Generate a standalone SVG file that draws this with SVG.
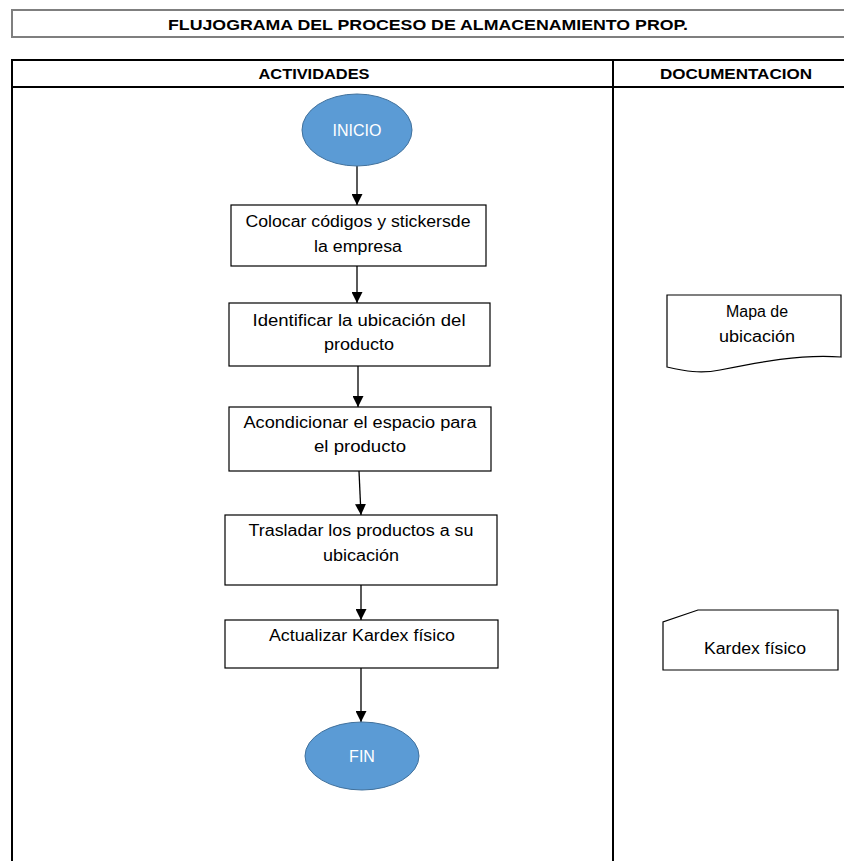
<svg xmlns="http://www.w3.org/2000/svg" width="844" height="861" viewBox="0 0 844 861">
  <defs>
    <style>
      .frame { fill: none; stroke: #000; stroke-width: 2; }
      .title-box { fill: #fff; stroke: #7f7f7f; stroke-width: 2; }
      .hdr { font-family: "Liberation Sans", Arial, sans-serif; font-weight: bold; font-size: 15px; fill: #000; text-anchor: middle; }
      .box { fill: #fff; stroke: #000; stroke-width: 1.2; }
      .lbl { font-family: "Liberation Sans", Arial, sans-serif; font-size: 16px; fill: #000; text-anchor: middle; }
      .term { fill: #5b9bd5; stroke: #41719c; stroke-width: 1; }
      .term-lbl { font-family: "Liberation Sans", Arial, sans-serif; font-size: 16px; fill: #fff; text-anchor: middle; }
      .edge { fill: none; stroke: #000; stroke-width: 1.3; marker-end: url(#arrow); }
    </style>
    <marker id="arrow" viewBox="0 0 10 10" refX="10" refY="5" markerWidth="11" markerHeight="11" markerUnits="userSpaceOnUse" orient="auto">
      <path d="M0,0 L10,5 L0,10 z" fill="#000"/>
    </marker>
  </defs>

  <rect width="844" height="861" fill="#fff"/>

  <!-- title bar -->
  <g id="title">
    <rect class="title-box" x="12" y="10" width="840" height="27"/>
    <text class="hdr" x="428" y="30" textLength="520" lengthAdjust="spacingAndGlyphs">FLUJOGRAMA DEL PROCESO DE ALMACENAMIENTO PROP.</text>
  </g>

  <!-- swimlane table -->
  <g id="table">
    <rect class="frame" x="12" y="60" width="840" height="810"/>
    <line class="frame" x1="12" y1="87" x2="844" y2="87"/>
    <line class="frame" x1="613" y1="60" x2="613" y2="861"/>
    <text class="hdr" x="314" y="79" textLength="111" lengthAdjust="spacingAndGlyphs">ACTIVIDADES</text>
    <text class="hdr" x="736" y="79" textLength="152" lengthAdjust="spacingAndGlyphs">DOCUMENTACION</text>
  </g>

  <!-- connectors -->
  <g id="connectors">
    <line class="edge" x1="357" y1="166" x2="357" y2="205"/>
    <line class="edge" x1="357" y1="266" x2="357" y2="303"/>
    <line class="edge" x1="358" y1="366" x2="358" y2="407"/>
    <line class="edge" x1="359" y1="471" x2="361" y2="515"/>
    <line class="edge" x1="361" y1="585" x2="361" y2="620"/>
    <line class="edge" x1="361" y1="668" x2="361" y2="722"/>
  </g>

  <g id="inicio">
    <ellipse class="term" cx="357" cy="130" rx="55" ry="36"/>
    <text class="term-lbl" x="357" y="136">INICIO</text>
  </g>

  <g id="colocar">
    <rect class="box" x="231" y="205" width="255" height="61"/>
    <text class="lbl" x="358" y="227" textLength="225" lengthAdjust="spacingAndGlyphs">Colocar códigos y stickersde</text>
    <text class="lbl" x="358" y="252" textLength="88" lengthAdjust="spacingAndGlyphs">la empresa</text>
  </g>

  <g id="identificar">
    <rect class="box" x="229" y="303" width="261" height="63"/>
    <text class="lbl" x="359" y="326" textLength="213" lengthAdjust="spacingAndGlyphs">Identificar la ubicación del</text>
    <text class="lbl" x="359" y="350" textLength="70" lengthAdjust="spacingAndGlyphs">producto</text>
  </g>

  <g id="acondicionar">
    <rect class="box" x="229" y="407" width="262" height="64"/>
    <text class="lbl" x="360" y="428" textLength="233" lengthAdjust="spacingAndGlyphs">Acondicionar el espacio para</text>
    <text class="lbl" x="360" y="452" textLength="92" lengthAdjust="spacingAndGlyphs">el producto</text>
  </g>

  <g id="trasladar">
    <rect class="box" x="225" y="515" width="272" height="70"/>
    <text class="lbl" x="361" y="536" textLength="225" lengthAdjust="spacingAndGlyphs">Trasladar los productos a su</text>
    <text class="lbl" x="361" y="561" textLength="76" lengthAdjust="spacingAndGlyphs">ubicación</text>
  </g>

  <g id="actualizar">
    <rect class="box" x="225" y="620" width="273" height="48"/>
    <text class="lbl" x="362" y="641" textLength="186" lengthAdjust="spacingAndGlyphs">Actualizar Kardex físico</text>
  </g>

  <g id="fin">
    <ellipse class="term" cx="362" cy="756" rx="57" ry="34"/>
    <text class="term-lbl" x="362" y="762">FIN</text>
  </g>

  <!-- document: location map -->
  <g id="mapa">
    <path class="box" d="M667,295 L841,295 L841,357 C800,354 760,362 720,370 C700,374 685,371 667,367 Z"/>
    <text class="lbl" x="757" y="317" textLength="62" lengthAdjust="spacingAndGlyphs">Mapa de</text>
    <text class="lbl" x="757" y="342" textLength="76" lengthAdjust="spacingAndGlyphs">ubicación</text>
  </g>

  <!-- card: physical kardex -->
  <g id="kardex">
    <path class="box" d="M698,610 L838,610 L838,670 L663,670 L663,622 Z"/>
    <text class="lbl" x="755" y="654" textLength="102" lengthAdjust="spacingAndGlyphs">Kardex físico</text>
  </g>
</svg>
